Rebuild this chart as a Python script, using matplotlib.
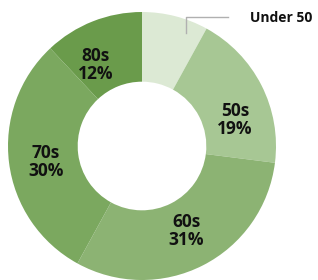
import numpy as np
import matplotlib
matplotlib.use("Agg")
import matplotlib.pyplot as plt

plt.rcParams['font.family'] = ['Open Sans', 'DejaVu Sans']

groups = ['Under 50', '50s', '60s', '70s', '80s']
shares = [8, 19, 31, 30, 12]
colors = ['#dce9d4', '#a7c794', '#8cb373', '#7ba85f', '#6a9b4b']

fig = plt.figure(figsize=(3.18, 2.80), dpi=100)
ax = fig.add_axes([0, 0, 1, 1])

cx, cy, R = 142, 134, 134
wedges, _ = ax.pie(shares, colors=colors, startangle=90, counterclock=False,
                   center=(cx, cy), radius=R,
                   wedgeprops=dict(width=R * 0.52, linewidth=0))

# in-ring labels (skip the small first slice)
offsets = {1: (6, -18), 2: (0, 2), 3: (1, -4), 4: (-10, -10)}
for i, w in enumerate(wedges):
    if i == 0:
        continue
    mid = np.deg2rad((w.theta1 + w.theta2) / 2)
    r = R * 0.73
    dx, dy = offsets.get(i, (0, 0))
    x = cx + r * np.cos(mid) + dx
    y = cy + r * np.sin(mid) + dy
    ax.text(x, y, f"{groups[i]}\n{shares[i]}%", ha='center', va='center',
            fontsize=12.5, fontweight='bold', linespacing=1.0, color='#111111')

# leader line for the small slice
ax.plot([186, 186, 228], [247, 263, 263], color='#b0b0b0', lw=1)
ax.text(281, 262, groups[0], ha='center', va='center', fontsize=10,
        fontweight='bold', color='#111111')

ax.set_xlim(0, 318)
ax.set_ylim(0, 280)
ax.set_aspect('equal')
ax.axis('off')

fig.savefig('out.png', dpi=100)
